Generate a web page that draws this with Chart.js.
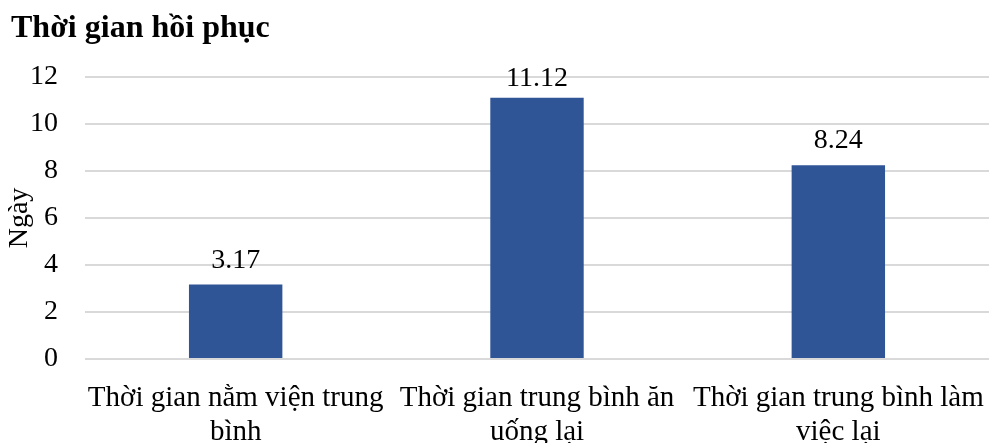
<!DOCTYPE html>
<html>
<head>
<meta charset="utf-8">
<script src="https://cdn.jsdelivr.net/npm/chart.js@4"></script>
<style>
  html, body { margin: 0; padding: 0; background: #ffffff; }
  #wrap { width: 989px; height: 443px; }
</style>
</head>
<body>
<div id="wrap"><canvas id="c" width="989" height="443"></canvas></div>
<script>
// Recovery time figures (days)
const categories = [
  ["Thời gian nằm viện trung", "bình"],
  ["Thời gian trung bình ăn", "uống lại"],
  ["Thời gian trung bình làm", "việc lại"]
];
const recoveryDays = [3.17, 11.12, 8.24];
const yTicks = [0, 2, 4, 6, 8, 10, 12];

const FONT = "'Liberation Serif', 'Times New Roman', serif";

// Draws each bar's value just above it, kept inside the top of the plot
const valueLabels = {
  id: 'valueLabels',
  afterDatasetsDraw(chart) {
    const { ctx, chartArea } = chart;
    const meta = chart.getDatasetMeta(0);
    ctx.save();
    ctx.font = `28px ${FONT}`;
    ctx.fillStyle = '#000000';
    ctx.textAlign = 'center';
    ctx.textBaseline = 'alphabetic';
    meta.data.forEach((bar, i) => {
      const baseline = Math.max(bar.y - 17, chartArea.top + 9);
      ctx.fillText(recoveryDays[i].toFixed(2), bar.x, baseline);
    });
    ctx.restore();
  }
};

new Chart(document.getElementById('c'), {
  type: 'bar',
  data: {
    labels: categories,
    datasets: [{
      data: recoveryDays,
      backgroundColor: '#2F5597',
      borderWidth: 0,
      barPercentage: 0.62,
      categoryPercentage: 0.5
    }]
  },
  options: {
    responsive: false,
    animation: false,
    layout: { padding: { left: 11, right: 0, top: 4, bottom: 0 } },
    plugins: {
      legend: { display: false },
      tooltip: { enabled: false },
      title: {
        display: true,
        text: 'Thời gian hồi phục',
        align: 'start',
        color: '#000000',
        font: { family: FONT, size: 32, weight: 'bold', lineHeight: 1.2 },
        padding: { top: 6, bottom: 28.6 }
      }
    },
    scales: {
      x: {
        afterFit(axis) {
          axis.height = 84;
          axis.paddingLeft = 0;
          axis.paddingRight = 0;
        },
        grid: { display: false, drawTicks: false },
        border: { display: false },
        ticks: {
          color: '#000000',
          font: { family: FONT, size: 29, lineHeight: 1.17 },
          padding: 22,
          maxRotation: 0,
          autoSkip: false
        }
      },
      y: {
        min: 0,
        max: 12,
        afterBuildTicks(axis) {
          axis.ticks = yTicks.map(v => ({ value: v }));
        },
        afterFit(axis) { axis.width = 74; },
        grid: { color: '#d9d9d9', lineWidth: 2, drawTicks: false },
        border: { display: false },
        ticks: {
          color: '#000000',
          font: { family: FONT, size: 28 },
          padding: 27
        },
        title: {
          display: true,
          text: 'Ngày',
          color: '#000000',
          font: { family: FONT, size: 28, lineHeight: 1.2 },
          padding: { top: -8, bottom: 0 }
        }
      }
    }
  },
  plugins: [valueLabels]
});
</script>
</body>
</html>
